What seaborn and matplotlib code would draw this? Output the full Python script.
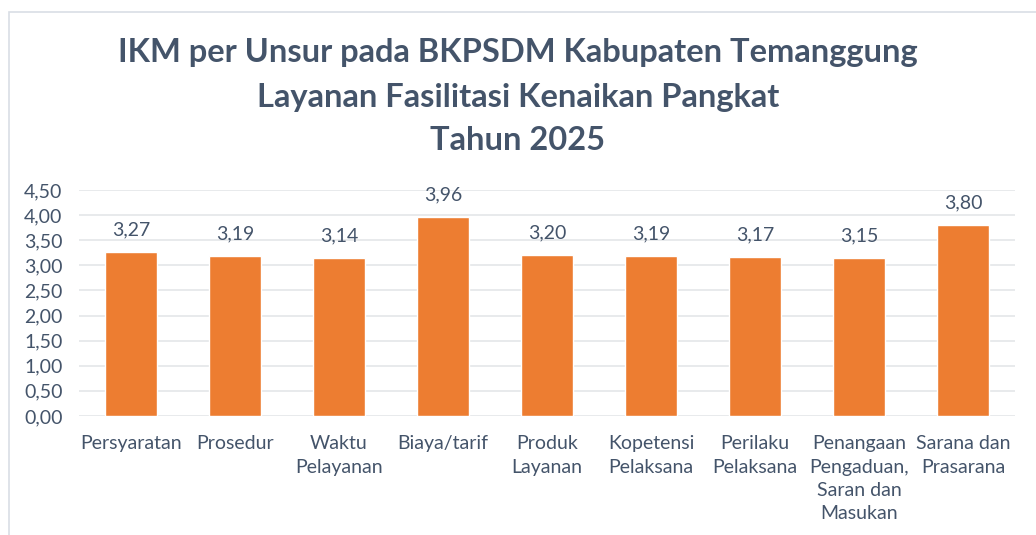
import matplotlib.pyplot as plt
import matplotlib.patches as mpatches
import pandas as pd
import seaborn as sns

unsur = ["Persyaratan", "Prosedur", "Waktu\nPelayanan", "Biaya/tarif", "Produk\nLayanan",
         "Kopetensi\nPelaksana", "Perilaku\nPelaksana", "Penangaan\nPengaduan,\nSaran dan\nMasukan",
         "Sarana dan\nPrasarana"]
nilai = [3.27, 3.19, 3.14, 3.96, 3.20, 3.19, 3.17, 3.15, 3.80]
y_ticks = [0.0, 0.5, 1.0, 1.5, 2.0, 2.5, 3.0, 3.5, 4.0, 4.5]
judul = ["IKM per Unsur pada BKPSDM Kabupaten Temanggung",
         "Layanan Fasilitasi Kenaikan Pangkat",
         "Tahun 2025"]

TEXT_COLOR = '#44546A'
BAR_COLOR = '#ED7D31'

df = pd.DataFrame({"unsur": unsur, "nilai": nilai})

sns.set_theme(style='white')
plt.rcParams['font.family'] = ['Lato', 'DejaVu Sans']

fig = plt.figure(figsize=(10.36, 5.35), dpi=100)
ax = fig.add_axes([0.0763, 0.2225, 0.9034, 0.4224])

# chart frame
fig.patches.append(mpatches.Rectangle((9 / 1036, -0.1), 1.2, 1 - 12 / 535 + 0.1, transform=fig.transFigure,
                                      fill=False, edgecolor='#D9DEE5', linewidth=1.2))

sns.barplot(data=df, x="unsur", y="nilai", color=BAR_COLOR, width=0.5, saturation=1, ax=ax)

for i, v in enumerate(nilai):
    ax.text(i, v + 0.27, f"{v:.2f}".replace('.', ','), ha='center', va='bottom',
            fontsize=14, color=TEXT_COLOR)

ax.set_ylim(0, 4.5)
ax.set_xlim(-0.5, len(unsur) - 0.5)
ax.set_yticks(y_ticks)
ax.set_yticklabels([f"{t:.2f}".replace('.', ',') for t in y_ticks], fontsize=14, color=TEXT_COLOR)
for lbl in ax.get_xticklabels():
    lbl.set_linespacing(1.45)
ax.tick_params(axis='x', labelsize=14, labelcolor=TEXT_COLOR, length=0, pad=14)
ax.tick_params(axis='y', length=0, pad=12)
for lbl in ax.get_yticklabels():
    lbl.set_horizontalalignment('right')
ax.grid(axis='y', color='#E6E8EB', linewidth=1.3)
ax.set_axisbelow(True)
for s in ax.spines.values():
    s.set_visible(False)
ax.set_xlabel('')
ax.set_ylabel('')

for k, (line, y) in enumerate(zip(judul, [52, 97, 140])):
    fig.text(0.5, 1 - y / 535, line, ha='center', va='center', fontsize=23.5,
             fontweight='bold', color=TEXT_COLOR)

fig.savefig("out.png", dpi=100)
